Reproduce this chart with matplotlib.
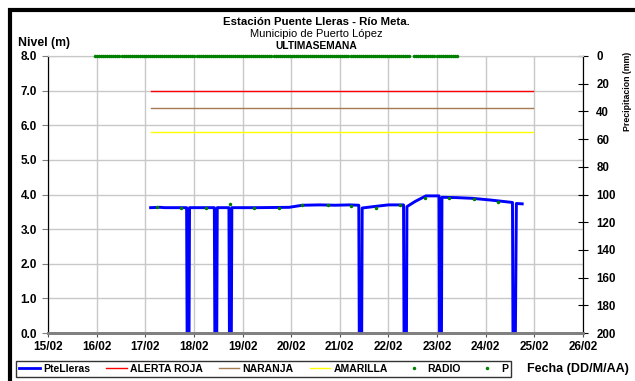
import numpy as np
import matplotlib
matplotlib.use('Agg')
import matplotlib.pyplot as plt
from matplotlib.patches import Rectangle
from matplotlib.lines import Line2D

plt.rcParams['font.family'] = ['Liberation Sans', 'DejaVu Sans']

# nivel PteLleras (dia de febrero, metros)
nivel_t = [17.11, 17.30, 17.40, 17.85, 17.86, 17.90, 17.91, 18.42, 18.43, 18.47, 18.48,
           18.72, 18.73, 18.77, 18.78, 19.30, 19.96, 20.23, 20.60, 20.90, 21.20, 21.39,
           21.40, 21.45, 21.46, 21.75, 22.00, 22.31, 22.32, 22.37, 22.38, 22.55, 22.77,
           23.04, 23.05, 23.09, 23.10, 23.40, 23.72, 24.10, 24.55, 24.56, 24.61, 24.63, 24.75]
nivel_v = [3.62, 3.63, 3.62, 3.62, 0.0, 0.0, 3.62, 3.62, 0.0, 0.0, 3.62,
           3.62, 0.0, 0.0, 3.62, 3.62, 3.63, 3.69, 3.70, 3.69, 3.70, 3.69,
           0.0, 0.0, 3.61, 3.66, 3.70, 3.70, 0.0, 0.0, 3.65, 3.80, 3.96,
           3.96, 0.0, 0.0, 3.92, 3.91, 3.89, 3.84, 3.77, 0.0, 0.0, 3.74, 3.73]

# niveles de alerta
alerta_t = [17.11, 24.98]
roja = [7.0, 7.0]
naranja = [6.5, 6.5]
amarilla = [5.8, 5.8]

# lecturas de radio
radio_t = [17.24, 17.73, 18.24, 18.75, 19.24, 19.75, 20.23, 20.75, 21.23, 21.75,
           22.24, 22.75, 23.25, 23.75, 24.25]
radio_v = [3.63, 3.62, 3.62, 3.72, 3.62, 3.62, 3.69, 3.69, 3.68, 3.62,
           3.70, 3.90, 3.91, 3.88, 3.79]

# precipitacion horaria (mm), todo cero
p_t = np.concatenate([np.arange(15.97, 22.44, 1 / 24), np.arange(22.53, 23.42, 1 / 24)])
p_v = np.zeros(len(p_t))

dias = list(range(15, 27))
dias_lbl = ['%02d/02' % d for d in dias]

fig = plt.figure(figsize=(6.35, 3.81), dpi=100)
ax = fig.add_axes([48 / 635, 1 - 333 / 381, 535 / 635, 277 / 381])
ax2 = ax.twinx()

ax.set_xlim(15, 26)
ax.set_ylim(0, 8)
ax.set_xticks(dias)
ax.set_xticklabels(dias_lbl)
ax.set_yticks(np.arange(0, 9, 1))
ax.set_yticklabels(['%.1f' % v for v in np.arange(0, 9, 1)])
ax.grid(True, color='#c8c8c8', lw=1)
ax.set_axisbelow(True)

ax.plot(alerta_t, roja, color='#ff0000', lw=1, zorder=2)
ax.plot(alerta_t, naranja, color='#a67c52', lw=1, zorder=2)
ax.plot(alerta_t, amarilla, color='#ffff00', lw=1, zorder=2)
ax.plot(nivel_t, nivel_v, color='#0000ff', lw=2.1, zorder=3)
ax.plot(radio_t, radio_v, ls='none', marker='o', ms=1.5, color='#008000', zorder=4)

ax2.set_ylim(200, 0)
ax2.set_yticks(np.arange(0, 201, 20))
ax2.plot(p_t, p_v, ls='none', marker='o', ms=1.5, color='#008000', clip_on=False, zorder=5)

for a in (ax, ax2):
    a.spines['top'].set_color('#c8c8c8')
    a.spines['bottom'].set_color('#808080')
    a.spines['bottom'].set_linewidth(2)
    a.spines['left'].set_color('black')
    a.spines['right'].set_color('black')
ax.tick_params(axis='x', length=3, color='#505050', labelsize=8.5, pad=3)
ax.tick_params(axis='y', length=4, color='#808080', labelsize=8.5, pad=4)
ax2.tick_params(axis='y', direction='inout', length=7, color='black', labelsize=8.3, pad=6)
for lab in ax.get_xticklabels() + ax.get_yticklabels() + ax2.get_yticklabels():
    lab.set_fontweight('bold')

fig.text(0.498, 0.942, 'Estación Puente Lleras - Río Meta.', ha='center', va='center',
         fontsize=8.2, fontweight='bold')
fig.text(0.498, 0.911, 'Municipio de Puerto López', ha='center', va='center', fontsize=8)
fig.text(0.498, 0.879, 'ULTIMASEMANA', ha='center', va='center', fontsize=7.4, fontweight='bold')
fig.text(18 / 635, 1 - 43 / 381, 'Nivel (m)', ha='left', va='center', fontsize=8.8,
         fontweight='bold')
fig.text(627 / 635, 1 - 91 / 381, 'Precipitacion (mm)', rotation=90, ha='center', va='center',
         fontsize=6.3, fontweight='bold')
fig.text(578 / 635, 1 - 369 / 381, 'Fecha (DD/M/AA)', ha='center', va='center',
         fontsize=9, fontweight='bold')

handles = [
    Line2D([], [], color='#0000ff', lw=2),
    Line2D([], [], color='#ff0000', lw=1),
    Line2D([], [], color='#a67c52', lw=1),
    Line2D([], [], color='#ffff00', lw=1),
    Line2D([], [], ls='none', marker='o', ms=1.5, color='#008000'),
    Line2D([], [], ls='none', marker='o', ms=1.5, color='#008000'),
]
labels = ['PteLleras', 'ALERTA ROJA', 'NARANJA', 'AMARILLA', 'RADIO', 'P']
leg = fig.legend(handles, labels, loc='lower left', ncol=6, mode='expand',
                 bbox_to_anchor=(16 / 635, 4 / 381, 495 / 635, 17 / 381),
                 prop={'size': 7.5, 'weight': 'bold'}, frameon=True, fancybox=False,
                 handlelength=2.0, handletextpad=0.3, borderpad=0.3, borderaxespad=0)
leg.get_frame().set_edgecolor('black')
leg.get_frame().set_linewidth(1)

fig.patches.append(Rectangle((10 / 635, -0.5), 2, 1.5 - 9.5 / 381, fill=False, lw=3,
                             edgecolor='black', transform=fig.transFigure))

fig.savefig('out.png', dpi=100)
